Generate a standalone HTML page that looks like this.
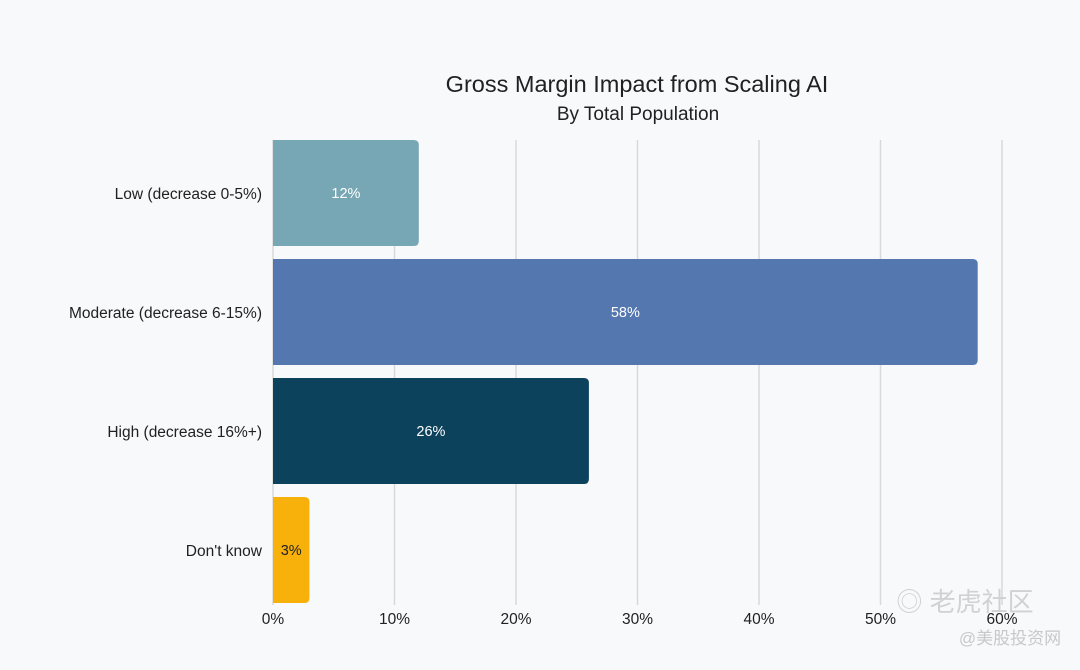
<!DOCTYPE html>
<html><head><meta charset="utf-8"><style>
body{margin:0;background:#f8f9fa;width:1080px;height:665px;overflow:hidden;font-family:"Liberation Sans","Noto Sans CJK SC",sans-serif;}
</style></head><body>
<svg id="chart" width="1080" height="665" xmlns="http://www.w3.org/2000/svg">
<rect width="1080" height="665" fill="#f8f9fa"/>
<text x="637" y="92" text-anchor="middle" font-size="23.5" fill="#202124">Gross Margin Impact from Scaling AI</text>
<text x="638" y="120" text-anchor="middle" font-size="19" fill="#202124">By Total Population</text>
<g id="grid"></g><g id="bars"></g><g id="ticks"></g>
<text x="965" y="611" text-anchor="middle" font-size="26" fill="#c8c8c8" opacity="0.8">◎ 老虎社区</text>
<text x="1010" y="644" text-anchor="middle" font-size="17" fill="#c8c8c8">@美股投资网</text>
</svg>
<script>
const categories=["Low (decrease 0-5%)","Moderate (decrease 6-15%)","High (decrease 16%+)","Don't know"];
const values=[12,58,26,3];
const colors=["#77a7b4","#5577b0","#0c425c","#f8b10b"];
const labelColors=["#ffffff","#ffffff","#ffffff","#202124"];
const ticks=[0,10,20,30,40,50,60];
const NS="http://www.w3.org/2000/svg";
const x0=273,pxPer=12.15,top0=140,step=119,bh=106;
function xs(v){return x0+v*pxPer;}
function ys(i){return top0+i*step;}
const grid=document.getElementById('grid'),bars=document.getElementById('bars'),tk=document.getElementById('ticks');
ticks.forEach(t=>{
 const l=document.createElementNS(NS,'line');
 l.setAttribute('x1',xs(t));l.setAttribute('x2',xs(t));l.setAttribute('y1',140);l.setAttribute('y2',605);
 l.setAttribute('stroke','#d9d9d9');l.setAttribute('stroke-width','1.5');
 
 
 grid.appendChild(l);
 const tx=document.createElementNS(NS,'text');
 tx.setAttribute('x',xs(t));tx.setAttribute('y',624);tx.setAttribute('text-anchor','middle');tx.setAttribute('font-size','15.5');tx.setAttribute('fill','#202124');
 tx.textContent=t+'%';
 
 
 tk.appendChild(tx);
});
categories.forEach((c,i)=>{
 const w=xs(values[i])-x0,y=ys(i),r=5;
 const p=document.createElementNS(NS,'path');
 p.setAttribute('d',`M${x0},${y}H${x0+w-r}Q${x0+w},${y} ${x0+w},${y+r}V${y+bh-r}Q${x0+w},${y+bh} ${x0+w-r},${y+bh}H${x0}Z`);
 p.setAttribute('fill',colors[i]);
 
 
 bars.appendChild(p);
 const v=document.createElementNS(NS,'text');
 v.setAttribute('x',x0+w/2);v.setAttribute('y',y+bh/2+5);v.setAttribute('text-anchor','middle');v.setAttribute('font-size','14.5');v.setAttribute('fill',labelColors[i]);
 v.textContent=values[i]+'%';
 
 
 bars.appendChild(v);
 const cl=document.createElementNS(NS,'text');
 cl.setAttribute('x',262);cl.setAttribute('y',y+bh/2+6);cl.setAttribute('text-anchor','end');cl.setAttribute('font-size','15.5');cl.setAttribute('fill','#202124');
 cl.textContent=c;
 
 
 bars.appendChild(cl);
});
</script>
</body></html>
